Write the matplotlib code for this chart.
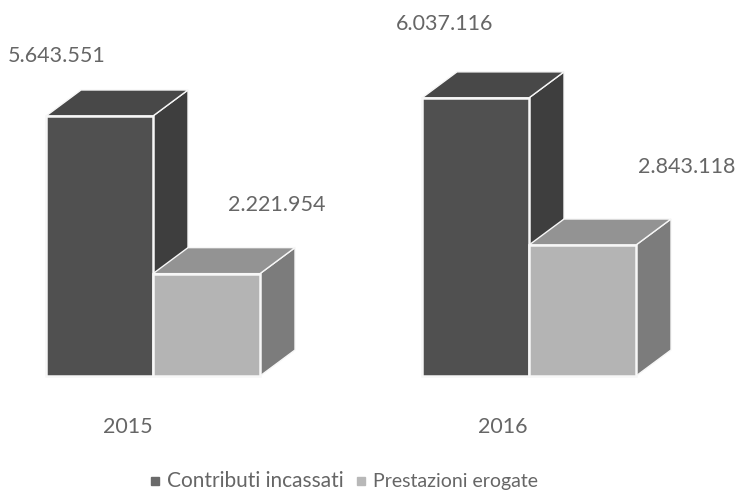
import matplotlib
matplotlib.use("Agg")
import matplotlib.pyplot as plt
from matplotlib.patches import Polygon

plt.rcParams['font.family'] = ['Lato', 'DejaVu Sans']

years = ['2015', '2016']
series_names = ['Contributi incassati', 'Prestazioni erogate']
contributi = [5643551, 6037116]
prestazioni = [2221954, 2843118]
labels_contributi = ['5.643.551', '6.037.116']
labels_prestazioni = ['2.221.954', '2.843.118']

W, H = 738, 490
BASE_PX = 376
PX_PER_UNIT = 260 / 5643551
GROUP_PX = [153, 529]
BAR_PX = 107
DX, DY = 35, 26

fig = plt.figure(figsize=(W / 100, H / 100), dpi=100, facecolor='white')
ax = fig.add_axes([0, 0, 1, 1])
ax.set_xlim(0, W)
ax.set_ylim(-(H - BASE_PX) / PX_PER_UNIT, BASE_PX / PX_PER_UNIT)
ax.axis('off')
dy_val = DY / PX_PER_UNIT


def bar3d(x0, value, front, top, side, z):
    x1 = x0 + BAR_PX
    ec = '#f7f7f7'
    ax.add_patch(Polygon([(x1, 0), (x1 + DX, dy_val), (x1 + DX, value + dy_val), (x1, value)],
                         fc=side, ec=ec, lw=1.0, zorder=z))
    ax.add_patch(Polygon([(x0, value), (x0 + DX, value + dy_val), (x1 + DX, value + dy_val), (x1, value)],
                         fc=top, ec=ec, lw=1.0, zorder=z))
    ax.bar(x0, value, width=BAR_PX, align='edge', color=front, edgecolor=ec, linewidth=1.8, zorder=z + 0.5)


for i, g in enumerate(GROUP_PX):
    bar3d(g - BAR_PX, contributi[i], '#505050', '#484848', '#3e3e3e', 2)
    bar3d(g, prestazioni[i], '#b4b4b4', '#939393', '#7c7c7c', 3)

txt = dict(color='#666666', fontsize=15.5, ha='center', va='center')
lab_pos = [((57, 56), (277, 205)), ((445, 24), (687, 167))]
for i in range(2):
    for (x, y), s in zip(lab_pos[i], (labels_contributi[i], labels_prestazioni[i])):
        ax.text(x, (BASE_PX - y) / PX_PER_UNIT, s, **txt)
for x, s in zip((128, 503), years):
    ax.text(x, (BASE_PX - 427) / PX_PER_UNIT, s, **txt)

for mx, tx, name, col, fs in zip((155, 361), (167, 373), series_names, ('#6a6a6a', '#b8b8b8'), (15, 14)):
    y = (BASE_PX - 481) / PX_PER_UNIT
    ax.plot([mx], [y], marker='s', ms=5.5, color=col, ls='none')
    ax.text(tx, y, name, color='#666666', fontsize=fs, ha='left', va='center')

fig.savefig('out.png', dpi=100)
